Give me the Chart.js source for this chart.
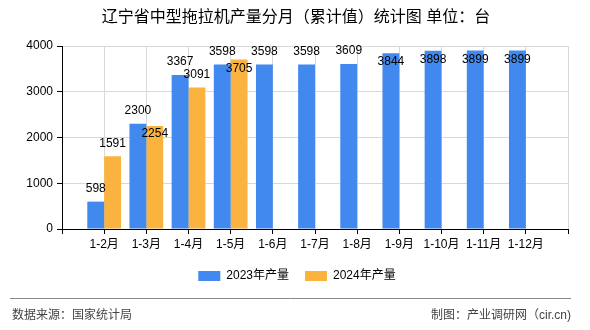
<!DOCTYPE html>
<html>
<head>
<meta charset="utf-8">
<script src="https://cdn.jsdelivr.net/npm/chart.js@4.4.1/dist/chart.umd.min.js"></script>
<style>
  html, body { margin: 0; padding: 0; background: #fff; }
  #wrap { width: 590px; height: 330px; position: relative; }
</style>
</head>
<body>
<div id="wrap"><canvas id="c"></canvas></div>
<script>
const categories = ['1-2月', '1-3月', '1-4月', '1-5月', '1-6月', '1-7月', '1-8月', '1-9月', '1-10月', '1-11月', '1-12月'];
const output2023 = [598, 2300, 3367, 3598, 3598, 3598, 3609, 3844, 3898, 3899, 3899];
const output2024 = [1591, 2254, 3091, 3705];
const yTicks = [0, 1000, 2000, 3000, 4000];
const seriesNames = ['2023年产量', '2024年产量'];
const title = '辽宁省中型拖拉机产量分月（累计值）统计图 单位：台';
const sourceText = '数据来源：国家统计局';
const madeByText = '制图：产业调研网（cir.cn)';

const FONT = '"Liberation Sans", "Noto Sans CJK SC", sans-serif';
const BLUE = '#4189EE';
const ORANGE = '#FBB33F';

// blank slot at each end, the plot has a half-gap on both sides
const labels = [''].concat(categories, ['']);
function padded(arr) {
  const out = [null];
  for (let i = 0; i < categories.length; i++) out.push(i < arr.length ? arr[i] : null);
  out.push(null);
  return out;
}

const decorPlugin = {
  id: 'decor',
  afterDatasetsDraw(chart) {
    const ctx = chart.ctx;
    ctx.save();
    ctx.fillStyle = '#000';
    ctx.font = '12px ' + FONT;
    ctx.textAlign = 'center';
    ctx.textBaseline = 'middle';
    const boxes = [];
    const top = chart.chartArea.top;
    chart.data.datasets.forEach((ds, di) => {
      const meta = chart.getDatasetMeta(di);
      meta.data.forEach((bar, i) => {
        const v = ds.data[i];
        if (v == null) return;
        const txt = String(v);
        const w = ctx.measureText(txt).width;
        let y = bar.y - 13;
        if (y < top + 4) y = bar.y + 9;
        let box = { l: bar.x - w / 2, r: bar.x + w / 2, t: y - 6, b: y + 6 };
        const hit = boxes.some(b => box.l < b.r && box.r > b.l && box.t < b.b && box.b > b.t);
        if (hit) {
          y = bar.y + 8;
          box = { l: bar.x - w / 2, r: bar.x + w / 2, t: y - 6, b: y + 6 };
        }
        boxes.push(box);
        ctx.fillText(txt, bar.x, y);
      });
    });
    ctx.restore();
  },
  afterDraw(chart) {
    const ctx = chart.ctx;
    ctx.save();
    // title
    ctx.fillStyle = '#000';
    ctx.font = '16px ' + FONT;
    ctx.textAlign = 'center';
    ctx.textBaseline = 'middle';
    ctx.fillText(title, 296, 18);

    // legend
    ctx.font = '12px ' + FONT;
    ctx.textAlign = 'left';
    const items = chart.data.datasets.map(d => ({ text: d.label, color: d.backgroundColor }));
    const boxW = 22, gap = 6, itemGap = 16;
    const widths = items.map(it => boxW + gap + ctx.measureText(it.text).width);
    let x = 297 - (widths.reduce((a, b) => a + b, 0) + itemGap * (items.length - 1)) / 2;
    items.forEach((it, i) => {
      ctx.fillStyle = it.color;
      ctx.fillRect(x, 271, boxW, 10);
      ctx.fillStyle = '#000';
      ctx.fillText(it.text, x + boxW + gap, 276);
      x += widths[i] + itemGap;
    });

    // footer
    ctx.strokeStyle = '#888';
    ctx.lineWidth = 1;
    ctx.beginPath();
    ctx.moveTo(10, 298.5);
    ctx.lineTo(571, 298.5);
    ctx.stroke();
    ctx.fillStyle = '#444';
    ctx.font = '12px ' + FONT;
    ctx.textAlign = 'left';
    ctx.fillText(sourceText, 12, 316);
    ctx.textAlign = 'right';
    ctx.fillText(madeByText, 571, 316);
    ctx.restore();
  }
};

new Chart(document.getElementById('c'), {
  type: 'bar',
  data: {
    labels: labels,
    datasets: [
      { label: seriesNames[0], data: padded(output2023), backgroundColor: BLUE },
      { label: seriesNames[1], data: padded(output2024), backgroundColor: ORANGE }
    ]
  },
  options: {
    responsive: true,
    maintainAspectRatio: false,
    animation: false,
    layout: { padding: { left: 0, right: 22, top: 46, bottom: 0 } },
    plugins: {
      legend: { display: false },
      title: { display: false },
      tooltip: { enabled: false }
    },
    datasets: {
      bar: { categoryPercentage: 0.8, barPercentage: 1.0 }
    },
    scales: {
      x: {
        offset: false,
        grid: { color: '#d8d8d8', tickColor: '#000', tickLength: 5, offset: false },
        border: { color: '#000', width: 1 },
        ticks: { autoSkip: false, maxRotation: 0, minRotation: 0, color: '#000', padding: 3, font: { family: FONT, size: 12 } },
        afterFit(scale) { scale.height = 101; }
      },
      y: {
        min: 0,
        max: 4000,
        afterBuildTicks(scale) { scale.ticks = yTicks.map(v => ({ value: v })); },
        grid: { color: '#d8d8d8', tickColor: '#000', tickLength: 5 },
        border: { color: '#000', width: 1 },
        ticks: { color: '#000', padding: 4, font: { family: FONT, size: 12 }, callback: v => String(v) },
        afterFit(scale) { scale.width = 62; }
      }
    }
  },
  plugins: [decorPlugin]
});
</script>
</body>
</html>
